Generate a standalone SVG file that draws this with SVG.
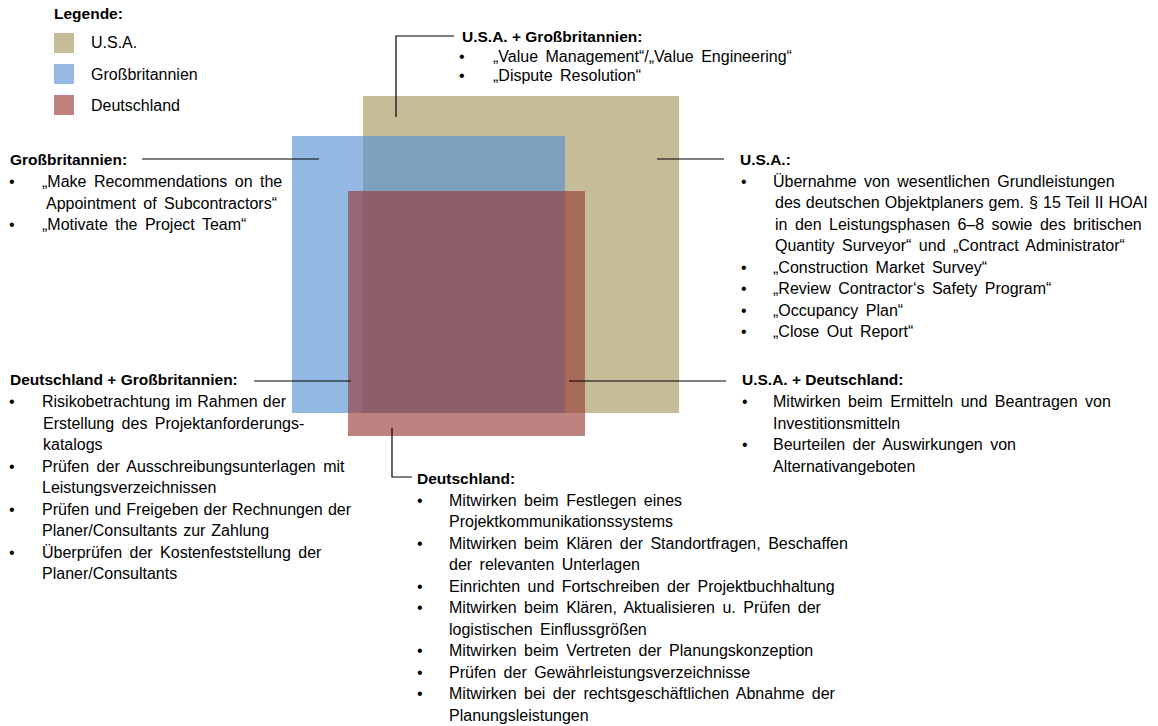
<svg xmlns="http://www.w3.org/2000/svg" width="1158" height="726" viewBox="0 0 1158 726">
  <style>
    text { font-family: "Liberation Sans", Arial, sans-serif; fill: #000; }
    .h { font-size: 15.5px; font-weight: bold; }
    .t { font-size: 16px; word-spacing: 3px; }
    .usa { fill: #C4BD97; }
    .gb { fill: rgb(85,142,213); fill-opacity: 0.63; }
    .de { fill: rgb(150,55,52); fill-opacity: 0.62; }
    .gb-key { fill: #95B8E4; }
    .de-key { fill: #BE8381; }
    .conn { stroke: #000; stroke-width: 1.2; fill: none; }
  </style>

  <!-- legend -->
  <g id="legend">
    <text class="h" x="54" y="19">Legende:</text>
    <rect class="usa" x="54" y="33" width="20" height="20"/>
    <rect class="gb-key" x="54" y="64" width="20" height="20"/>
    <rect class="de-key" x="54" y="95" width="20" height="20"/>
    <text class="t" x="91" y="48">U.S.A.</text>
    <text class="t" x="91" y="80">Großbritannien</text>
    <text class="t" x="91" y="111">Deutschland</text>
  </g>

  <!-- overlapping country areas -->
  <g id="area-usa"><rect class="usa" x="363" y="96" width="316" height="317"/></g>
  <g id="area-gb"><rect class="gb" x="292" y="136" width="273" height="277"/></g>
  <g id="area-de"><rect class="de" x="348" y="191" width="237" height="245"/></g>

  <!-- callout lines -->
  <g id="connectors">
    <polyline class="conn" points="396,117 396,36 454,36"/>
    <line class="conn" x1="142" y1="159" x2="319" y2="159"/>
    <line class="conn" x1="657" y1="159" x2="724" y2="159"/>
    <line class="conn" x1="254" y1="381" x2="351" y2="381"/>
    <line class="conn" x1="569" y1="381" x2="726" y2="381"/>
    <polyline class="conn" points="392,428 392,477 412,477"/>
  </g>

  <g id="note-usa-gb">
    <text class="h" x="462" y="42">U.S.A. + Großbritannien:</text>
    <text class="t" x="459" y="62">•</text><text class="t" x="493" y="62">„Value Management“/„Value Engineering“</text>
    <text class="t" x="459" y="81">•</text><text class="t" x="493" y="81">„Dispute Resolution“</text>
  </g>

  <g id="note-gb">
    <text class="h" x="10" y="165">Großbritannien:</text>
    <text class="t" x="9" y="187">•</text><text class="t" x="42" y="187">„Make Recommendations on the</text>
    <text class="t" x="46" y="208.5">Appointment of Subcontractors“</text>
    <text class="t" x="9" y="230">•</text><text class="t" x="42" y="230">„Motivate the Project Team“</text>
  </g>

  <g id="note-usa">
    <text class="h" x="740" y="165">U.S.A.:</text>
    <text class="t" x="741" y="186.5">•</text><text class="t" x="773" y="186.5">Übernahme von wesentlichen Grundleistungen</text>
    <text class="t" x="775" y="208" style="word-spacing:0.6px">des deutschen Objektplaners gem. § 15 Teil II HOAI</text>
    <text class="t" x="775" y="229.5">in den Leistungsphasen 6–8 sowie des britischen</text>
    <text class="t" x="775" y="251">Quantity Surveyor“ und „Contract Administrator“</text>
    <text class="t" x="741" y="272.5">•</text><text class="t" x="773" y="272.5">„Construction Market Survey“</text>
    <text class="t" x="741" y="294">•</text><text class="t" x="773" y="294">„Review Contractor‘s Safety Program“</text>
    <text class="t" x="741" y="315.5">•</text><text class="t" x="773" y="315.5">„Occupancy Plan“</text>
    <text class="t" x="741" y="337">•</text><text class="t" x="773" y="337">„Close Out Report“</text>
  </g>

  <g id="note-de-gb">
    <text class="h" x="10" y="385">Deutschland + Großbritannien:</text>
    <text class="t" x="9" y="407">•</text><text class="t" x="42" y="407" style="word-spacing:0.7px">Risikobetrachtung im Rahmen der</text>
    <text class="t" x="43" y="428.5">Erstellung des Projektanforderungs-</text>
    <text class="t" x="43" y="450">katalogs</text>
    <text class="t" x="9" y="471.5">•</text><text class="t" x="42" y="471.5">Prüfen der Ausschreibungsunterlagen mit</text>
    <text class="t" x="42" y="493">Leistungsverzeichnissen</text>
    <text class="t" x="9" y="514.5">•</text><text class="t" x="42" y="514.5" style="word-spacing:0.8px">Prüfen und Freigeben der Rechnungen der</text>
    <text class="t" x="42" y="536" style="word-spacing:1.5px">Planer/Consultants zur Zahlung</text>
    <text class="t" x="9" y="557.5">•</text><text class="t" x="42" y="557.5">Überprüfen der Kostenfeststellung der</text>
    <text class="t" x="42" y="579">Planer/Consultants</text>
  </g>

  <g id="note-usa-de">
    <text class="h" x="742" y="385">U.S.A. + Deutschland:</text>
    <text class="t" x="742" y="407">•</text><text class="t" x="773" y="407">Mitwirken beim Ermitteln und Beantragen von</text>
    <text class="t" x="773" y="428.5">Investitionsmitteln</text>
    <text class="t" x="742" y="450">•</text><text class="t" x="773" y="450">Beurteilen der Auswirkungen von</text>
    <text class="t" x="773" y="471.5">Alternativangeboten</text>
  </g>

  <g id="note-de">
    <text class="h" x="417" y="484">Deutschland:</text>
    <text class="t" x="417" y="505.5">•</text><text class="t" x="449" y="505.5">Mitwirken beim Festlegen eines</text>
    <text class="t" x="449" y="527">Projektkommunikationssystems</text>
    <text class="t" x="417" y="548.5">•</text><text class="t" x="449" y="548.5">Mitwirken beim Klären der Standortfragen, Beschaffen</text>
    <text class="t" x="449" y="570">der relevanten Unterlagen</text>
    <text class="t" x="417" y="591.5">•</text><text class="t" x="449" y="591.5">Einrichten und Fortschreiben der Projektbuchhaltung</text>
    <text class="t" x="417" y="613">•</text><text class="t" x="449" y="613">Mitwirken beim Klären, Aktualisieren u. Prüfen der</text>
    <text class="t" x="449" y="634.5">logistischen Einflussgrößen</text>
    <text class="t" x="417" y="656">•</text><text class="t" x="449" y="656">Mitwirken beim Vertreten der Planungskonzeption</text>
    <text class="t" x="417" y="677.5">•</text><text class="t" x="449" y="677.5">Prüfen der Gewährleistungsverzeichnisse</text>
    <text class="t" x="417" y="699">•</text><text class="t" x="449" y="699">Mitwirken bei der rechtsgeschäftlichen Abnahme der</text>
    <text class="t" x="449" y="720.5">Planungsleistungen</text>
  </g>
</svg>
